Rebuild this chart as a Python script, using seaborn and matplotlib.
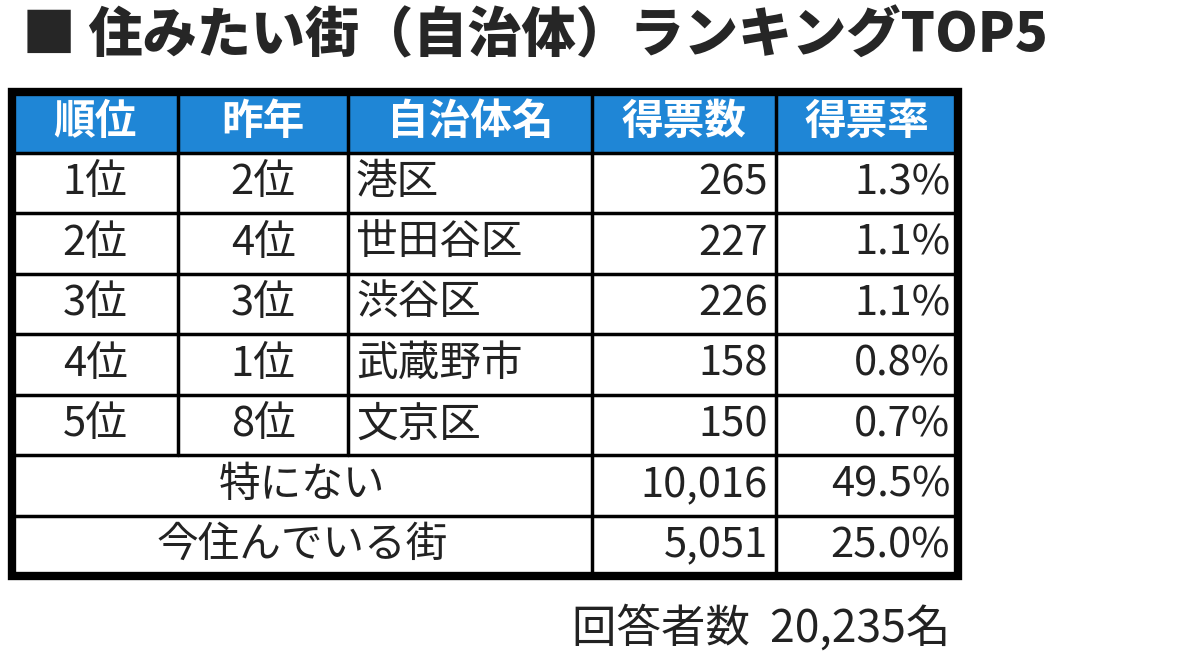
import matplotlib
matplotlib.use("Agg")
import matplotlib.pyplot as plt
import seaborn as sns

sns.set_theme(style="white")
plt.rcParams['font.family'] = ['Noto Sans CJK JP', 'DejaVu Sans']

title = "■ 住みたい街（自治体）ランキングTOP5"
headers = ["順位", "昨年", "自治体名", "得票数", "得票率"]
ranks = ["1位", "2位", "3位", "4位", "5位"]
last_year = ["2位", "4位", "3位", "1位", "8位"]
names = ["港区", "世田谷区", "渋谷区", "武蔵野市", "文京区"]
votes = ["265", "227", "226", "158", "150"]
rates = ["1.3%", "1.1%", "1.1%", "0.8%", "0.7%"]
extra_labels = ["特にない", "今住んでいる街"]
extra_votes = ["10,016", "5,051"]
extra_rates = ["49.5%", "25.0%"]
footer = "回答者数  20,235名"

fig = plt.figure(figsize=(12, 6.72), dpi=100)
ax = fig.add_axes([0, 0, 1, 1])
ax.set_xlim(0, 1200)
ax.set_ylim(672, 0)
ax.axis("off")

cols = [12, 178, 348, 592, 776, 958]
row_h = 60.5
top = 92
ys = [top + i * row_h for i in range(9)]

ax.text(22, 36, title, fontsize=39, fontweight="heavy", va="center", ha="left")

# header
ax.add_patch(plt.Rectangle((cols[0], ys[0]), cols[-1] - cols[0], row_h, color="#1f86d6", zorder=1))
for i, h in enumerate(headers):
    ax.text((cols[i] + cols[i + 1]) / 2, ys[0] + row_h / 2, h, color="white", fontsize=30,
            fontweight="bold", ha="center", va="center")

fs = 30
for r in range(5):
    yc = ys[r + 1] + row_h / 2
    ax.text((cols[0] + cols[1]) / 2, yc, ranks[r], fontsize=fs, ha="center", va="center", color="#222")
    ax.text((cols[1] + cols[2]) / 2, yc, last_year[r], fontsize=fs, ha="center", va="center", color="#222")
    ax.text(cols[2] + 8, yc, names[r], fontsize=fs, ha="left", va="center", color="#222")
    ax.text(cols[4] - 8, yc, votes[r], fontsize=fs, ha="right", va="center", color="#222")
    ax.text(cols[5] - 8, yc, rates[r], fontsize=fs, ha="right", va="center", color="#222")
for k in range(2):
    yc = ys[6 + k] + row_h / 2
    ax.text((cols[0] + cols[3]) / 2, yc, extra_labels[k], fontsize=fs, ha="center", va="center", color="#222")
    ax.text(cols[4] - 8, yc, extra_votes[k], fontsize=fs, ha="right", va="center", color="#222")
    ax.text(cols[5] - 8, yc, extra_rates[k], fontsize=fs, ha="right", va="center", color="#222")

# grid lines
for y in ys[1:-1]:
    ax.plot([cols[0], cols[-1]], [y, y], color="black", lw=2.5, zorder=3)
for j, x in enumerate(cols[1:-1], start=1):
    yend = ys[-1] if j >= 3 else ys[6]
    ax.plot([x, x], [ys[0], yend], color="black", lw=2.5, zorder=3)
ax.add_patch(plt.Rectangle((cols[0], ys[0]), cols[-1] - cols[0], ys[-1] - ys[0],
                           fill=False, edgecolor="black", lw=6, zorder=4))

ax.text(950, 628, footer, fontsize=32, ha="right", va="center", color="#222")

fig.savefig("out.png", dpi=100)
